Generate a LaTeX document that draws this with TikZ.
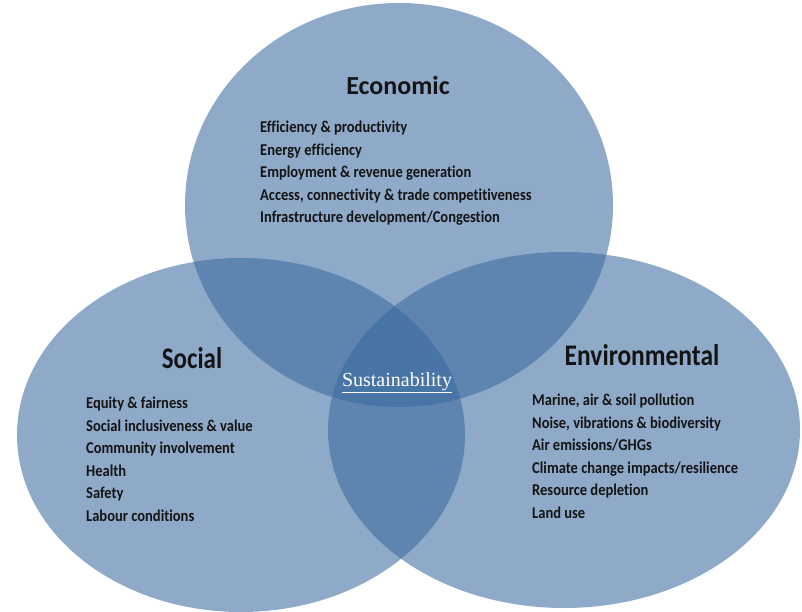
\documentclass[tikz,border=0pt]{standalone}
\usepackage{fontspec}
\setmainfont{Carlito}[Ligatures=NoCommon]
\newfontfamily\serifsust{Liberation Serif}
\usetikzlibrary{positioning}
\definecolor{vennblue}{RGB}{58,104,158}
\definecolor{inktext}{RGB}{20,20,20}
\tikzset{
	venn/.style={fill=vennblue,fill opacity=0.57},
	heading/.style={font=\fontsize{26}{30}\selectfont\bfseries,text=inktext,inner sep=0},
	itemlist/.style={font=\fontsize{16.5}{22.5}\selectfont\bfseries,text=inktext,align=left,anchor=north west,inner sep=0,xscale=0.88}
}

\begin{document}
\begin{tikzpicture}[x=1pt,y=-1pt]
	\useasboundingbox (0,0) rectangle (802,612);
	% the three circles
	\fill[venn] (399,205) ellipse[x radius=214,y radius=202];
	\fill[venn] (241,435) ellipse[x radius=224,y radius=177];
	\fill[venn] (564,430) ellipse[x radius=236,y radius=178];
	% headings
	\node[heading] (eco) at (398,85) {Economic};
	\node[heading,yscale=1.15,xscale=0.96] (soc) at (192,358) {Social};
	\node[heading,yscale=1.15,xscale=0.98] (env) at (642,355) {Environmental};
	\node (sust) at (397,383) [font=\serifsust\fontsize{20}{24}\selectfont,text=white,inner sep=0] {\underline{Sustainability}};
	% lists
	\node[itemlist] (ecolist) at (260,121) {Efficiency \& productivity\\Energy efficiency\\Employment \& revenue generation\\Access, connectivity \& trade competitiveness\\Infrastructure development/Congestion};
	\node[itemlist] (soclist) at (86,397) {Equity \& fairness\\Social inclusiveness \& value\\Community involvement\\Health\\Safety\\Labour conditions};
	\node[itemlist] (envlist) at (532,394) {Marine, air \& soil pollution\\Noise, vibrations \& biodiversity\\Air emissions/GHGs\\Climate change impacts/resilience\\Resource depletion\\Land use};
\end{tikzpicture}
\end{document}
